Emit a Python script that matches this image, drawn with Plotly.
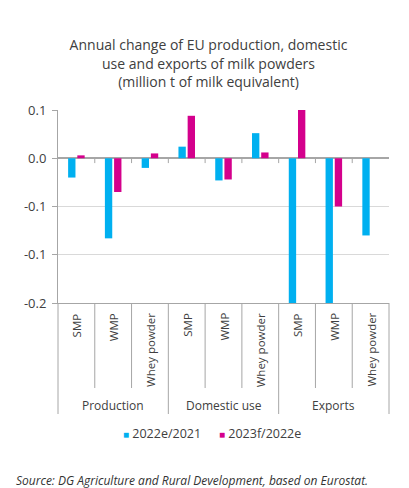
import plotly.graph_objects as go

groups = ["Production"] * 3 + ["Domestic use"] * 3 + ["Exports"] * 3
products = ["SMP", "WMP", "Whey powder"] * 3
change_2022 = [-0.020, -0.083, -0.010, 0.012, -0.023, 0.026, -0.150, -0.150, -0.080]
change_2023 = [0.003, -0.035, 0.005, 0.044, -0.022, 0.006, 0.050, -0.050, None]
series_names = ["2022e/2021", "2023f/2022e"]
y_ticks = [0.05, 0.0, -0.05, -0.10, -0.15]
y_tick_text = ["0.1", "0.0", "-0.1", "-0.1", "-0.2"]

_CYAN = "#00b0f0"
_MAGENTA = "#d4008c"
_TEXT = "#404040"
_GRID = "#d9d9d9"
_AXIS = "#a6a6a6"
_FONT = "Open Sans, Lato, sans-serif"

# The page body adds an 8px margin, so the figure is drawn 8px smaller.
# Plot area in figure pixels: x 50..381, y 102..295
_PLOT_H = 193


def _py(px_below: float) -> float:
    """Paper y for a point px_below pixels under the plot area."""
    return -px_below / _PLOT_H


fig = go.Figure()
for values, color, name in zip((change_2022, change_2023), (_CYAN, _MAGENTA), series_names):
    fig.add_trace(
        go.Bar(
            x=[groups, products],
            y=values,
            name=name,
            marker={"color": color, "line": {"width": 0}},
            showlegend=False,
        )
    )

n = len(products)
shapes = []
annotations = []

# separators under the axis: full height between groups, shorter inside groups
for i in range(n + 1):
    is_group_edge = i in (0, n) or groups[i] != groups[i - 1]
    shapes.append(
        {
            "type": "line",
            "xref": "paper",
            "yref": "paper",
            "x0": i / n,
            "x1": i / n,
            "y0": 0,
            "y1": _py(111 if is_group_edge else 85),
            "line": {"color": _AXIS, "width": 1},
        }
    )
    # small tick marks hanging from the zero line
    if 0 < i < n:
        shapes.append(
            {
                "type": "line",
                "xref": "paper",
                "yref": "y",
                "x0": i / n,
                "x1": i / n,
                "y0": 0,
                "y1": -0.005,
                "line": {"color": _AXIS, "width": 1},
            }
        )

# product labels, rotated
for i, product in enumerate(products):
    annotations.append(
        {
            "text": product,
            "xref": "paper",
            "yref": "paper",
            "x": (i + 0.5) / n,
            "y": _py(8),
            "xanchor": "center",
            "yanchor": "top",
            "textangle": -90,
            "showarrow": False,
            "font": {"size": 11.5, "color": _TEXT},
        }
    )

# group labels
seen = []
for g in groups:
    if g not in seen:
        seen.append(g)
for g in seen:
    idx = [i for i, name in enumerate(groups) if name == g]
    annotations.append(
        {
            "text": g,
            "xref": "paper",
            "yref": "paper",
            "x": (idx[0] + idx[-1] + 1) / 2 / n,
            "y": _py(102),
            "xanchor": "center",
            "yanchor": "middle",
            "showarrow": False,
            "font": {"size": 12, "color": _TEXT},
        }
    )

# legend drawn as text so the swatches stay small squares
for name, color, cx in zip(series_names, (_CYAN, _MAGENTA), (0.314, 0.610)):
    annotations.append(
        {
            "text": f"<span style='color:{color}; font-size:10px'>■</span> {name}",
            "xref": "paper",
            "yref": "paper",
            "x": cx,
            "y": _py(130),
            "xanchor": "center",
            "yanchor": "middle",
            "showarrow": False,
            "font": {"size": 12.5, "color": _TEXT},
        }
    )

annotations.append(
    {
        "text": "<i>Source: DG Agriculture and Rural Development, based on Eurostat.</i>",
        "xref": "paper",
        "yref": "paper",
        "x": -0.133,
        "y": _py(177),
        "xanchor": "left",
        "yanchor": "middle",
        "showarrow": False,
        "font": {"size": 12, "color": "#333333"},
    }
)

fig.update_layout(
    width=401,
    height=480,
    paper_bgcolor="white",
    plot_bgcolor="white",
    font={"family": _FONT, "color": _TEXT, "size": 13},
    title={
        "text": "Annual change of EU production, domestic<br>use and exports of milk powders<br>(million t of milk equivalent)",
        "x": 0.5,
        "xanchor": "center",
        "y": 0.9115,
        "yanchor": "top",
        "font": {"size": 14, "color": _TEXT},
        "automargin": False,
    },
    barmode="group",
    bargap=0.5,
    bargroupgap=0.2,
    margin={"l": 50, "r": 20, "t": 102, "b": 185, "pad": 0},
    showlegend=False,
    xaxis={
        "type": "multicategory",
        "showticklabels": False,
        "showline": True,
        "linecolor": _AXIS,
        "ticks": "",
        "showdividers": False,
        "automargin": False,
    },
    yaxis={
        "range": [-0.15, 0.05],
        "tickvals": y_ticks,
        "ticktext": y_tick_text,
        "showgrid": True,
        "gridcolor": _GRID,
        "zeroline": True,
        "zerolinecolor": _AXIS,
        "zerolinewidth": 1.5,
        "showline": True,
        "linecolor": _AXIS,
        "ticks": "outside",
        "ticklen": 5,
        "tickcolor": _AXIS,
        "ticklabelstandoff": 3,
        "tickfont": {"size": 13, "color": _TEXT},
        "automargin": False,
    },
    shapes=shapes,
    annotations=annotations,
)

fig.write_html("out.html")
